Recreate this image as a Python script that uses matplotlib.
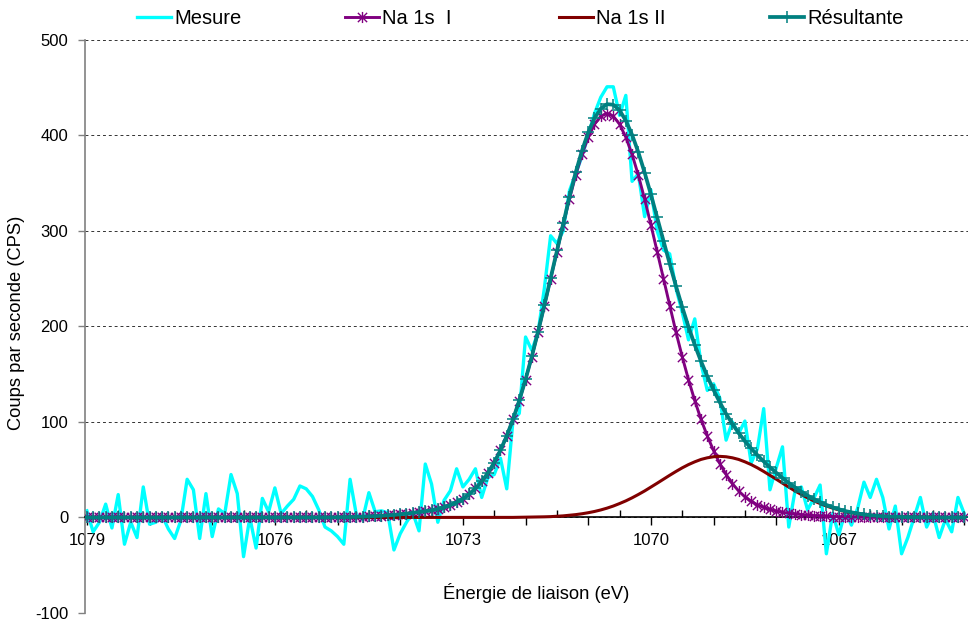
import numpy as np
import matplotlib
matplotlib.use("Agg")
import matplotlib.pyplot as plt
from matplotlib.path import Path
from matplotlib.ticker import MultipleLocator, FuncFormatter

plt.rcParams["font.family"] = ["Liberation Sans", "DejaVu Sans"]
plt.rcParams["axes.unicode_minus"] = False

# binding energy grid, 0.1 eV steps from 1079 down to 1065 eV
energie = np.linspace(1079, 1065, 141)

# measured spectrum (CPS)
mesure = [
    7, -15, -5, 14, -11, 24, -28, -5, -21, 32,
    -7, -5, 2, -12, -22, -3, 40, 29, -22, 25,
    -20, 9, 4, 45, 25, -41, 0, -32, 20, 6,
    31, 4, 12, 19, 33, 30, 22, 8, -10, -14,
    -20, -28, 40, 3, -2, 26, 6, 7, 5, -34,
    -17, -5, 5, -14, 56, 35, -5, 18, 28, 51,
    32, 40, 51, 21, 42, 45, 62, 30, 102, 109,
    189, 175, 194, 240, 295, 287, 300, 342, 360, 378,
    400, 423, 440, 451, 451, 421, 442, 352, 360, 315,
    343, 300, 280, 276, 240, 215, 186, 208, 161, 133,
    140, 125, 81, 100, 88, 101, 57, 72, 114, 29,
    52, 74, -10, 28, 32, 8, 20, 34, -38, 4,
    -18, 6, -8, 10, 37, 21, 40, 21, -12, 12,
    -38, -21, 0, 21, -10, 4, -21, -2, -15, 21,
    4,
]

# fitted component Na 1s I
na1s_1 = [
    0, 0, 0, 0, 0, 0, 0, 0, 0, 0,
    0, 0, 0, 0, 0, 0, 0, 0, 0, 0,
    0, 0, 0, 0, 0, 0, 0, 0, 0, 0,
    0, 0, 0, 0, 0, 0, 0, 0, 0, 0.1,
    0.2, 0.3, 0.4, 0.6, 0.8, 1.1, 1.4, 1.8, 2.2, 2.7,
    3.3, 4.0, 4.8, 5.7, 6.5, 7.5, 8.9, 10.6, 12.9, 15.9,
    19.6, 24.4, 30.4, 37.7, 46.7, 57.5, 70.4, 85.4, 102.7, 122.4,
    144.3, 168.3, 194.2, 221.5, 249.8, 278.3, 306.5, 333.4, 358.3, 380.1,
    398.2, 411.8, 420.2, 423.0, 420.2, 411.8, 398.2, 380.1, 358.3, 333.4,
    306.5, 278.3, 249.8, 221.5, 194.2, 168.3, 144.3, 122.4, 102.7, 85.4,
    70.0, 56.5, 45.0, 35.5, 27.8, 21.6, 16.9, 13.3, 10.5, 8.4,
    6.8, 5.5, 4.5, 3.7, 3.0, 2.4, 1.9, 1.5, 1.2, 0.9,
    0.7, 0.5, 0.4, 0.3, 0.2, 0.1, 0.1, 0, 0, 0,
    0, 0, 0, 0, 0, 0, 0, 0, 0, 0,
    0,
]

# fitted component Na 1s II
na1s_2 = [
    0, 0, 0, 0, 0, 0, 0, 0, 0, 0,
    0, 0, 0, 0, 0, 0, 0, 0, 0, 0,
    0, 0, 0, 0, 0, 0, 0, 0, 0, 0,
    0, 0, 0, 0, 0, 0, 0, 0, 0, 0,
    0, 0, 0, 0, 0, 0, 0, 0, 0, 0,
    0, 0, 0, 0, 0, 0, 0, 0, 0, 0,
    0, 0, 0, 0, 0, 0, 0, 0.1, 0.1, 0.2,
    0.3, 0.4, 0.5, 0.7, 0.9, 1.3, 1.7, 2.3, 3.0, 3.9,
    5.0, 6.3, 7.9, 9.8, 12.0, 14.6, 17.4, 20.6, 24.1, 27.8,
    31.8, 35.9, 40.1, 44.2, 48.2, 52.0, 55.4, 58.3, 60.8, 62.5,
    63.6, 64.0, 63.6, 62.5, 60.8, 58.3, 55.4, 52.0, 48.2, 44.2,
    40.1, 35.9, 31.8, 27.8, 24.1, 20.6, 17.4, 14.6, 12.0, 9.8,
    7.9, 6.3, 5.0, 3.9, 3.0, 2.3, 1.7, 1.3, 0.9, 0.7,
    0.5, 0.4, 0.3, 0.2, 0.1, 0.1, 0, 0, 0, 0,
    0,
]

# envelope = sum of both components
resultante = np.array(na1s_1) + np.array(na1s_2)

# "x" with a vertical bar, like the spreadsheet asterisk marker
asterisk = Path(
    [(-1, -1), (1, 1), (-1, 1), (1, -1), (0, -1.2), (0, 1.2)],
    [Path.MOVETO, Path.LINETO, Path.MOVETO, Path.LINETO, Path.MOVETO, Path.LINETO],
)

fig = plt.figure(figsize=(9.68, 6.2), dpi=100)
ax = fig.add_axes([0.0878, 0.0113, 0.9122, 0.9242])

l1, = ax.plot(energie, mesure, color="#00ffff", lw=2.4, zorder=2, label="Mesure")
l2, = ax.plot(energie, na1s_1, color="#800080", lw=2.1, marker=asterisk, ms=8,
              mew=1.0, zorder=3, label="Na 1s  I")
l3, = ax.plot(energie, na1s_2, color="#800000", lw=2.2, zorder=4, label="Na 1s II")
l4, = ax.plot(energie, resultante, color="#008080", lw=2.7, marker="+", ms=9,
              mew=1.1, zorder=5, label="Résultante")

ax.set_xlim(1079.03, 1064.94)
ax.set_ylim(-100, 500)
ax.set_yticks(range(-100, 501, 100))
ax.yaxis.grid(True, linestyle=(0, (3, 3)), color="#333333", lw=0.7)

for s in ["top", "right"]:
    ax.spines[s].set_visible(False)
ax.spines["bottom"].set_position(("data", 0))
ax.spines["bottom"].set_linewidth(1.2)
ax.spines["left"].set_color("#808080")
ax.spines["left"].set_linewidth(1.2)

ax.xaxis.set_major_locator(MultipleLocator(1))
ax.xaxis.set_minor_locator(MultipleLocator(0.5))


def every_third(v, pos):
    r = round(v)
    if abs(v - r) < 1e-6 and (1079 - r) % 3 == 0:
        return f"{r:d}"
    return ""


ax.xaxis.set_major_formatter(FuncFormatter(every_third))
ax.tick_params(axis="x", which="major", direction="out", length=6, width=1,
               labelsize=12, pad=5)
ax.tick_params(axis="x", which="minor", direction="in", length=5, width=1)
ax.tick_params(axis="y", direction="out", length=5, width=1, color="#808080",
               labelsize=12, pad=7)

ax.set_xlabel("Énergie de liaison (eV)", fontsize=13.2)
ax.xaxis.set_label_coords(0.511, 0.0357)
ax.xaxis.label.set_va("center")
ax.set_ylabel("Coups par seconde (CPS)", fontsize=13.2)
ax.yaxis.set_label_coords(-0.077, 0.507)
ax.yaxis.label.set_va("center")

# one legend entry per slot across the top
for h, x in zip([l1, l2, l3, l4], [137, 345, 559, 770]):
    fig.legend(handles=[h], loc="center left", bbox_to_anchor=(x / 968, 1 - 19 / 620),
               frameon=False, fontsize=14.5, handlelength=1.7, handletextpad=0.15,
               borderpad=0, borderaxespad=0, numpoints=1)

fig.savefig("out.png", dpi=100)
